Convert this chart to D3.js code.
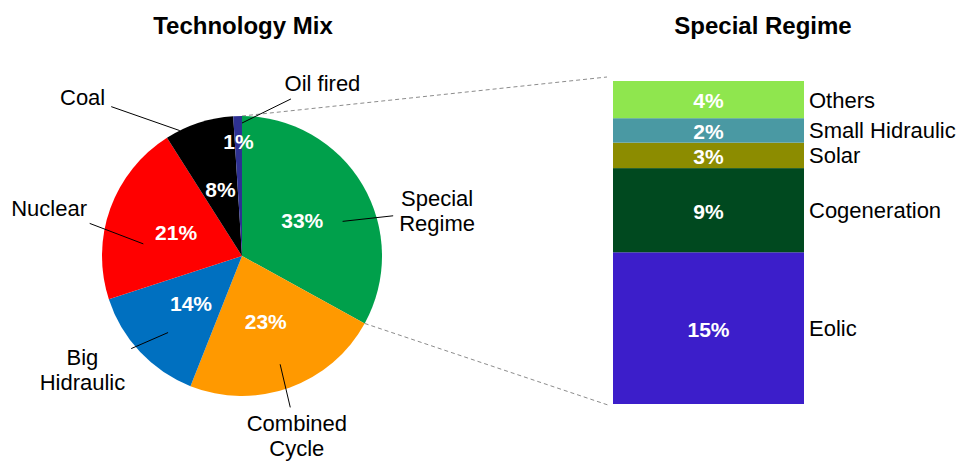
<!DOCTYPE html>
<html>
<head>
<meta charset="utf-8">
<script src="https://cdn.jsdelivr.net/npm/d3@7"></script>
<style>
  body { margin: 0; background: #fff; }
  svg { display: block; font-family: "Liberation Sans", Arial, sans-serif; }
</style>
</head>
<body>
<script>
// Technology mix (pie), clockwise from 12 o'clock
const techNames = ['Special Regime', 'Combined Cycle', 'Big Hidraulic', 'Nuclear', 'Coal', 'Oil fired'];
const techShares = [33, 23, 14, 21, 8, 1];
const techColors = ['#00a04b', '#ff9900', '#0070c0', '#ff0000', '#000000', '#2e3192'];

// Special regime breakdown (bar), bottom to top
const regimeNames = ['Eolic', 'Cogeneration', 'Solar', 'Small Hidraulic', 'Others'];
const regimeShares = [15.5, 8.6, 2.6, 2.5, 3.8];
const regimeLabels = ['15%', '9%', '3%', '2%', '4%'];
const regimeColors = ['#3c1eca', '#00491f', '#8c8c00', '#4a99a3', '#8fe64e'];

// where each outside pie label sits: angle shift from slice middle (deg) and radius factor,
// plus the inner end of its leader line
const pieLabelLayout = {
  'Special Regime': { shift: 17.6, rf: 1.43, lineShift: 11.6, lineRf: 0.76 },
  'Combined Cycle': { shift: 2.8, rf: 1.34, lineShift: 0.4, lineRf: 0.82 },
  'Big Hidraulic': { shift: 7.7, rf: 1.40, lineShift: -2.8, lineRf: 0.76 },
  'Nuclear': { shift: -5.8, rf: 1.42, lineShift: -12.8, lineRf: 0.71 },
  'Coal': { shift: -27, rf: 1.61, lineShift: -8.4, lineRf: 1.0 },
  'Oil fired': { shift: 26.8, rf: 1.36, lineShift: 1.8, lineRf: 0.95 }
};

const width = 962;
const height = 461;
const pieCenter = { x: 242, y: 256 };
const radius = 140;
const bar = { left: 613, right: 804, top: 81, bottom: 404 };

const svg = d3.select('body').append('svg')
  .attr('width', width)
  .attr('height', height);

// titles
svg.append('text')
  .attr('x', 243).attr('y', 34)
  .attr('text-anchor', 'middle')
  .style('font-size', '24px').style('font-weight', 'bold')
  .text('Technology Mix');

svg.append('text')
  .attr('x', 763).attr('y', 34)
  .attr('text-anchor', 'middle')
  .style('font-size', '24px').style('font-weight', 'bold')
  .text('Special Regime');

// pie
const pieData = techNames.map((name, i) => ({ name, value: techShares[i], color: techColors[i] }));
const arcs = d3.pie().sort(null).value(d => d.value)(pieData);
const arc = d3.arc().innerRadius(0).outerRadius(radius);

const pieG = svg.append('g')
  .attr('transform', `translate(${pieCenter.x}, ${pieCenter.y})`);

const toRad = deg => deg * Math.PI / 180;
const polar = (angle, r) => [r * Math.sin(angle), -r * Math.cos(angle)];

// connectors from the split slice to the bar (drawn first, behind everything)
const split = arcs[0];
const topPt = polar(split.startAngle, radius);
const botPt = polar(split.endAngle, radius);
const connectors = [
  [pieCenter.x + topPt[0], pieCenter.y + topPt[1], bar.left - 6, bar.top - 4],
  [pieCenter.x + botPt[0], pieCenter.y + botPt[1], bar.left - 5, bar.bottom + 1]
];
svg.insert('g', ':first-child').selectAll('line').data(connectors)
  .enter().append('line')
  .attr('x1', d => d[0]).attr('y1', d => d[1])
  .attr('x2', d => d[2]).attr('y2', d => d[3])
  .attr('stroke', '#8c8c8c')
  .attr('stroke-width', 1)
  .attr('stroke-dasharray', '4,3');

pieG.selectAll('path').data(arcs)
  .enter().append('path')
  .attr('d', arc)
  .attr('fill', d => d.data.color);

// percentages inside slices
pieG.selectAll('text.pct').data(arcs)
  .enter().append('text')
  .attr('class', 'pct')
  .attr('transform', d => {
    const mid = (d.startAngle + d.endAngle) / 2;
    const r = d.data.value < 2 ? radius * 0.82 : radius * 0.5;
    const p = polar(mid, r);
    return `translate(${p[0]}, ${p[1]})`;
  })
  .attr('dy', '0.36em')
  .attr('text-anchor', 'middle')
  .attr('fill', '#fff')
  .style('font-size', '21px').style('font-weight', 'bold')
  .text(d => d.data.value + '%');

// outside labels with leader lines
const labelFont = 22;
const lineGap = 25;
const measure = svg.append('text').style('font-size', labelFont + 'px').attr('visibility', 'hidden');

arcs.forEach(d => {
  const lay = pieLabelLayout[d.data.name];
  const mid = (d.startAngle + d.endAngle) / 2;
  const lp = polar(mid + toRad(lay.shift), radius * lay.rf);
  const ip = polar(mid + toRad(lay.lineShift), radius * lay.lineRf);
  const lines = d.data.name === 'Oil fired' ? [d.data.name] : d.data.name.split(' ');

  // label box size
  let w = 0;
  lines.forEach(t => { measure.text(t); w = Math.max(w, measure.node().getComputedTextLength()); });
  const hw = w / 2 + 6;
  const hh = lines.length * lineGap / 2 + 3;

  // outer end: where the line from the slice to the label center leaves the label box
  const dx = lp[0] - ip[0];
  const dy = lp[1] - ip[1];
  const sx = Math.abs(dx) > 0 ? hw / Math.abs(dx) : Infinity;
  const sy = Math.abs(dy) > 0 ? hh / Math.abs(dy) : Infinity;
  const t = Math.max(0, 1 - Math.min(sx, sy));

  pieG.append('line')
    .attr('x1', ip[0]).attr('y1', ip[1])
    .attr('x2', ip[0] + dx * t).attr('y2', ip[1] + dy * t)
    .attr('stroke', '#000')
    .attr('stroke-width', 1);

  const txt = pieG.append('text')
    .attr('x', lp[0]).attr('y', lp[1])
    .attr('text-anchor', 'middle')
    .style('font-size', labelFont + 'px')
    .attr('fill', '#000');
  lines.forEach((line, i) => {
    txt.append('tspan')
      .attr('x', lp[0])
      .attr('y', lp[1] + (i - (lines.length - 1) / 2) * lineGap)
      .attr('dy', '0.36em')
      .text(line);
  });
});
measure.remove();

// stacked bar of the special regime
const total = d3.sum(regimeShares);
const yScale = d3.scaleLinear()
  .domain([0, total])
  .range([bar.bottom, bar.top]);

const stacked = [];
let acc = 0;
regimeNames.forEach((name, i) => {
  stacked.push({ name, y0: acc, y1: acc + regimeShares[i], label: regimeLabels[i], color: regimeColors[i] });
  acc += regimeShares[i];
});

const barG = svg.append('g');

barG.selectAll('rect').data(stacked)
  .enter().append('rect')
  .attr('x', bar.left)
  .attr('width', bar.right - bar.left)
  .attr('y', d => yScale(d.y1))
  .attr('height', d => yScale(d.y0) - yScale(d.y1))
  .attr('fill', d => d.color);

barG.selectAll('text.pct').data(stacked)
  .enter().append('text')
  .attr('class', 'pct')
  .attr('x', (bar.left + bar.right) / 2)
  .attr('y', d => yScale((d.y0 + d.y1) / 2) + 1)
  .attr('dy', '0.36em')
  .attr('text-anchor', 'middle')
  .attr('fill', '#fff')
  .style('font-size', '21px').style('font-weight', 'bold')
  .text(d => d.label);

barG.selectAll('text.name').data(stacked)
  .enter().append('text')
  .attr('class', 'name')
  .attr('x', bar.right + 5)
  .attr('y', d => yScale((d.y0 + d.y1) / 2))
  .attr('dy', '0.36em')
  .style('font-size', labelFont + 'px')
  .attr('fill', '#000')
  .text(d => d.name);
</script>
</body>
</html>
